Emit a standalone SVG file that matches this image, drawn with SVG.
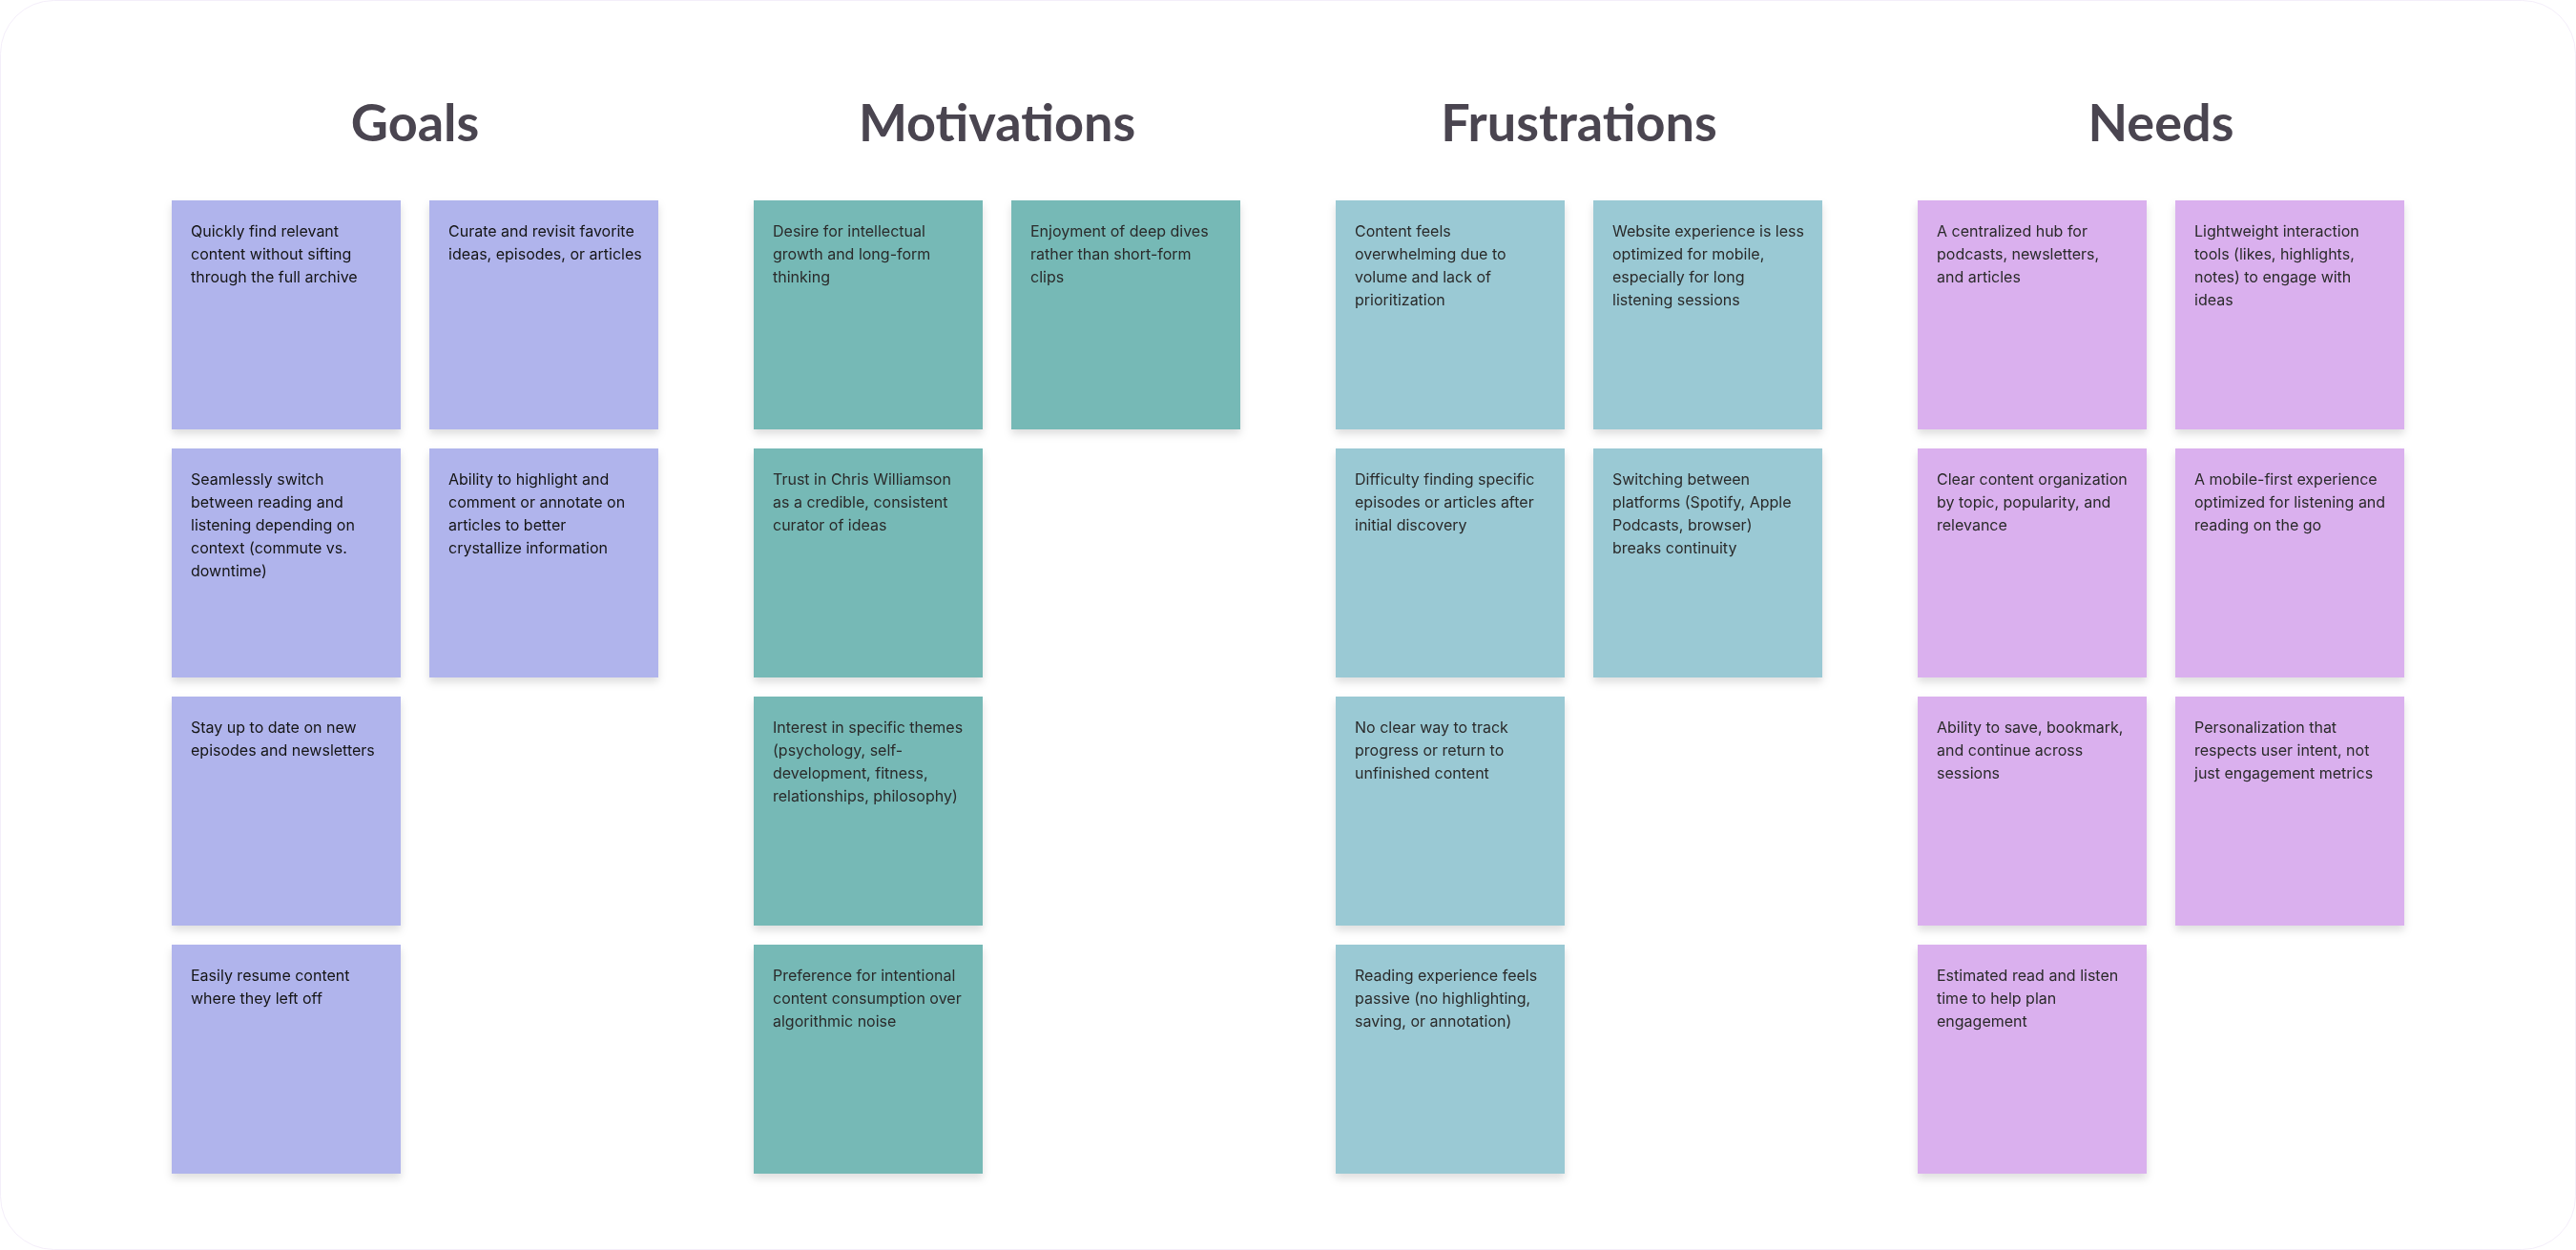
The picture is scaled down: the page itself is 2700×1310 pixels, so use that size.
<svg xmlns="http://www.w3.org/2000/svg" width="2700" height="1310" viewBox="0 0 2700 1310">
<defs>
<filter id="sh" x="-10%" y="-10%" width="120%" height="125%">
<feDropShadow dx="0" dy="5" stdDeviation="4" flood-color="#000" flood-opacity="0.13"/>
</filter>
<style>
.title{font-family:Lato,"Liberation Sans",sans-serif;font-weight:700;font-size:54px;fill:#4a4550;text-anchor:middle}
.t{font-family:Inter,"Liberation Sans",sans-serif;font-size:16px;fill:#2a2a2a}
.g .t{fill:#141414}
.note{filter:url(#sh)}
.g rect{fill:#b0b4ec}
.m rect{fill:#76b9b6}
.f rect{fill:#9ac9d4}
.n rect{fill:#dab0ee}
</style>
</defs>
<rect x="0.5" y="0.5" width="2699" height="1309" rx="56" fill="#ffffff" stroke="#f4eefa" stroke-width="1"/>

<g id="titles">
<text class="title" x="435" y="148">Goals</text>
<text class="title" x="1045" y="148">Motivations</text>
<text class="title" x="1655" y="148">Frustrations</text>
<text class="title" x="2265" y="148">Needs</text>
</g>

<g id="goals" class="g">
<g id="g1" class="note" transform="translate(180,210)"><rect width="240" height="240"/><text class="t"><tspan x="20" y="38">Quickly find relevant</tspan><tspan x="20" dy="24">content without sifting</tspan><tspan x="20" dy="24">through the full archive</tspan></text></g>
<g id="g2" class="note" transform="translate(450,210)"><rect width="240" height="240"/><text class="t"><tspan x="20" y="38">Curate and revisit favorite</tspan><tspan x="20" dy="24">ideas, episodes, or articles</tspan></text></g>
<g id="g3" class="note" transform="translate(180,470)"><rect width="240" height="240"/><text class="t"><tspan x="20" y="38">Seamlessly switch</tspan><tspan x="20" dy="24">between reading and</tspan><tspan x="20" dy="24">listening depending on</tspan><tspan x="20" dy="24">context (commute vs.</tspan><tspan x="20" dy="24">downtime)</tspan></text></g>
<g id="g4" class="note" transform="translate(450,470)"><rect width="240" height="240"/><text class="t"><tspan x="20" y="38">Ability to highlight and</tspan><tspan x="20" dy="24">comment or annotate on</tspan><tspan x="20" dy="24">articles to better</tspan><tspan x="20" dy="24">crystallize information</tspan></text></g>
<g id="g5" class="note" transform="translate(180,730)"><rect width="240" height="240"/><text class="t"><tspan x="20" y="38">Stay up to date on new</tspan><tspan x="20" dy="24">episodes and newsletters</tspan></text></g>
<g id="g6" class="note" transform="translate(180,990)"><rect width="240" height="240"/><text class="t"><tspan x="20" y="38">Easily resume content</tspan><tspan x="20" dy="24">where they left off</tspan></text></g>
</g>

<g id="motivations" class="m">
<g id="m1" class="note" transform="translate(790,210)"><rect width="240" height="240"/><text class="t"><tspan x="20" y="38">Desire for intellectual</tspan><tspan x="20" dy="24">growth and long-form</tspan><tspan x="20" dy="24">thinking</tspan></text></g>
<g id="m2" class="note" transform="translate(1060,210)"><rect width="240" height="240"/><text class="t"><tspan x="20" y="38">Enjoyment of deep dives</tspan><tspan x="20" dy="24">rather than short-form</tspan><tspan x="20" dy="24">clips</tspan></text></g>
<g id="m3" class="note" transform="translate(790,470)"><rect width="240" height="240"/><text class="t"><tspan x="20" y="38">Trust in Chris Williamson</tspan><tspan x="20" dy="24">as a credible, consistent</tspan><tspan x="20" dy="24">curator of ideas</tspan></text></g>
<g id="m4" class="note" transform="translate(790,730)"><rect width="240" height="240"/><text class="t"><tspan x="20" y="38">Interest in specific themes</tspan><tspan x="20" dy="24">(psychology, self-</tspan><tspan x="20" dy="24">development, fitness,</tspan><tspan x="20" dy="24">relationships, philosophy)</tspan></text></g>
<g id="m5" class="note" transform="translate(790,990)"><rect width="240" height="240"/><text class="t"><tspan x="20" y="38">Preference for intentional</tspan><tspan x="20" dy="24">content consumption over</tspan><tspan x="20" dy="24">algorithmic noise</tspan></text></g>
</g>

<g id="frustrations" class="f">
<g id="f1" class="note" transform="translate(1400,210)"><rect width="240" height="240"/><text class="t"><tspan x="20" y="38">Content feels</tspan><tspan x="20" dy="24">overwhelming due to</tspan><tspan x="20" dy="24">volume and lack of</tspan><tspan x="20" dy="24">prioritization</tspan></text></g>
<g id="f2" class="note" transform="translate(1670,210)"><rect width="240" height="240"/><text class="t"><tspan x="20" y="38">Website experience is less</tspan><tspan x="20" dy="24">optimized for mobile,</tspan><tspan x="20" dy="24">especially for long</tspan><tspan x="20" dy="24">listening sessions</tspan></text></g>
<g id="f3" class="note" transform="translate(1400,470)"><rect width="240" height="240"/><text class="t"><tspan x="20" y="38">Difficulty finding specific</tspan><tspan x="20" dy="24">episodes or articles after</tspan><tspan x="20" dy="24">initial discovery</tspan></text></g>
<g id="f4" class="note" transform="translate(1670,470)"><rect width="240" height="240"/><text class="t"><tspan x="20" y="38">Switching between</tspan><tspan x="20" dy="24">platforms (Spotify, Apple</tspan><tspan x="20" dy="24">Podcasts, browser)</tspan><tspan x="20" dy="24">breaks continuity</tspan></text></g>
<g id="f5" class="note" transform="translate(1400,730)"><rect width="240" height="240"/><text class="t"><tspan x="20" y="38">No clear way to track</tspan><tspan x="20" dy="24">progress or return to</tspan><tspan x="20" dy="24">unfinished content</tspan></text></g>
<g id="f6" class="note" transform="translate(1400,990)"><rect width="240" height="240"/><text class="t"><tspan x="20" y="38">Reading experience feels</tspan><tspan x="20" dy="24">passive (no highlighting,</tspan><tspan x="20" dy="24">saving, or annotation)</tspan></text></g>
</g>

<g id="needs" class="n">
<g id="n1" class="note" transform="translate(2010,210)"><rect width="240" height="240"/><text class="t"><tspan x="20" y="38">A centralized hub for</tspan><tspan x="20" dy="24">podcasts, newsletters,</tspan><tspan x="20" dy="24">and articles</tspan></text></g>
<g id="n2" class="note" transform="translate(2280,210)"><rect width="240" height="240"/><text class="t"><tspan x="20" y="38">Lightweight interaction</tspan><tspan x="20" dy="24">tools (likes, highlights,</tspan><tspan x="20" dy="24">notes) to engage with</tspan><tspan x="20" dy="24">ideas</tspan></text></g>
<g id="n3" class="note" transform="translate(2010,470)"><rect width="240" height="240"/><text class="t"><tspan x="20" y="38">Clear content organization</tspan><tspan x="20" dy="24">by topic, popularity, and</tspan><tspan x="20" dy="24">relevance</tspan></text></g>
<g id="n4" class="note" transform="translate(2280,470)"><rect width="240" height="240"/><text class="t"><tspan x="20" y="38">A mobile-first experience</tspan><tspan x="20" dy="24">optimized for listening and</tspan><tspan x="20" dy="24">reading on the go</tspan></text></g>
<g id="n5" class="note" transform="translate(2010,730)"><rect width="240" height="240"/><text class="t"><tspan x="20" y="38">Ability to save, bookmark,</tspan><tspan x="20" dy="24">and continue across</tspan><tspan x="20" dy="24">sessions</tspan></text></g>
<g id="n6" class="note" transform="translate(2280,730)"><rect width="240" height="240"/><text class="t"><tspan x="20" y="38">Personalization that</tspan><tspan x="20" dy="24">respects user intent, not</tspan><tspan x="20" dy="24">just engagement metrics</tspan></text></g>
<g id="n7" class="note" transform="translate(2010,990)"><rect width="240" height="240"/><text class="t"><tspan x="20" y="38">Estimated read and listen</tspan><tspan x="20" dy="24">time to help plan</tspan><tspan x="20" dy="24">engagement</tspan></text></g>
</g>
</svg>
